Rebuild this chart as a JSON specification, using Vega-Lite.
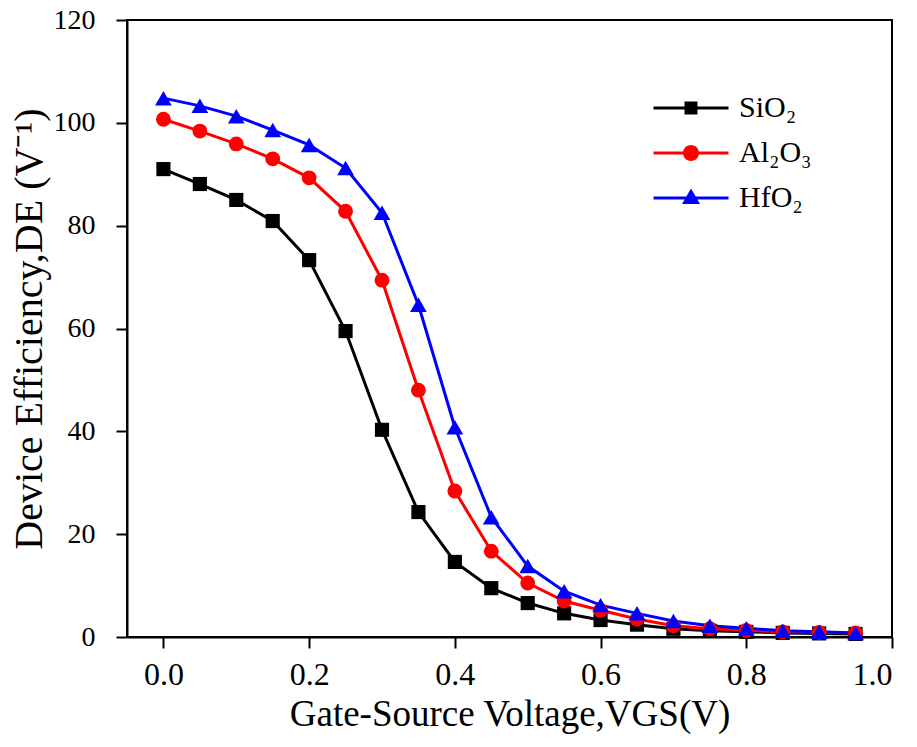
{
  "$schema": "https://vega.github.io/schema/vega-lite/v6.json",
  "autosize": "none",
  "width": 765,
  "height": 617,
  "padding": {"left": 127, "top": 20, "right": 25, "bottom": 110},
  "background": "white",
  "config": {
    "font": "Liberation Serif",
    "view": {"stroke": "black", "strokeWidth": 2},
    "axis": {
      "grid": false,
      "domainColor": "black",
      "domainWidth": 2,
      "tickColor": "black",
      "tickWidth": 2,
      "tickSize": 11,
      "labelColor": "black",
      "titleColor": "black",
      "labelFont": "Liberation Serif",
      "titleFont": "Liberation Serif",
      "titleFontWeight": "normal"
    },
    "legend": {"labelFont": "Liberation Serif"}
  },
  "data": {
    "values": [
      {"v": 0.00, "m": "SiO\u2082", "de": 91.0},
      {"v": 0.05, "m": "SiO\u2082", "de": 88.1},
      {"v": 0.10, "m": "SiO\u2082", "de": 85.0},
      {"v": 0.15, "m": "SiO\u2082", "de": 80.9},
      {"v": 0.20, "m": "SiO\u2082", "de": 73.3},
      {"v": 0.25, "m": "SiO\u2082", "de": 59.5},
      {"v": 0.30, "m": "SiO\u2082", "de": 40.3},
      {"v": 0.35, "m": "SiO\u2082", "de": 24.3},
      {"v": 0.40, "m": "SiO\u2082", "de": 14.6},
      {"v": 0.45, "m": "SiO\u2082", "de": 9.5},
      {"v": 0.50, "m": "SiO\u2082", "de": 6.6},
      {"v": 0.55, "m": "SiO\u2082", "de": 4.6},
      {"v": 0.60, "m": "SiO\u2082", "de": 3.3},
      {"v": 0.65, "m": "SiO\u2082", "de": 2.4},
      {"v": 0.70, "m": "SiO\u2082", "de": 1.6},
      {"v": 0.75, "m": "SiO\u2082", "de": 1.2},
      {"v": 0.80, "m": "SiO\u2082", "de": 1.0},
      {"v": 0.85, "m": "SiO\u2082", "de": 0.8},
      {"v": 0.90, "m": "SiO\u2082", "de": 0.7},
      {"v": 0.95, "m": "SiO\u2082", "de": 0.6},
      {"v": 0.00, "m": "Al\u2082O\u2083", "de": 100.7},
      {"v": 0.05, "m": "Al\u2082O\u2083", "de": 98.4},
      {"v": 0.10, "m": "Al\u2082O\u2083", "de": 95.9},
      {"v": 0.15, "m": "Al\u2082O\u2083", "de": 93.0},
      {"v": 0.20, "m": "Al\u2082O\u2083", "de": 89.3},
      {"v": 0.25, "m": "Al\u2082O\u2083", "de": 82.8},
      {"v": 0.30, "m": "Al\u2082O\u2083", "de": 69.4},
      {"v": 0.35, "m": "Al\u2082O\u2083", "de": 48.0},
      {"v": 0.40, "m": "Al\u2082O\u2083", "de": 28.4},
      {"v": 0.45, "m": "Al\u2082O\u2083", "de": 16.7},
      {"v": 0.50, "m": "Al\u2082O\u2083", "de": 10.5},
      {"v": 0.55, "m": "Al\u2082O\u2083", "de": 7.0},
      {"v": 0.60, "m": "Al\u2082O\u2083", "de": 5.2},
      {"v": 0.65, "m": "Al\u2082O\u2083", "de": 3.5},
      {"v": 0.70, "m": "Al\u2082O\u2083", "de": 2.2},
      {"v": 0.75, "m": "Al\u2082O\u2083", "de": 1.6},
      {"v": 0.80, "m": "Al\u2082O\u2083", "de": 1.3},
      {"v": 0.85, "m": "Al\u2082O\u2083", "de": 1.0},
      {"v": 0.90, "m": "Al\u2082O\u2083", "de": 0.9},
      {"v": 0.95, "m": "Al\u2082O\u2083", "de": 0.8},
      {"v": 0.00, "m": "HfO\u2082", "de": 104.8},
      {"v": 0.05, "m": "HfO\u2082", "de": 103.3},
      {"v": 0.10, "m": "HfO\u2082", "de": 101.3},
      {"v": 0.15, "m": "HfO\u2082", "de": 98.6},
      {"v": 0.20, "m": "HfO\u2082", "de": 95.7},
      {"v": 0.25, "m": "HfO\u2082", "de": 91.2},
      {"v": 0.30, "m": "HfO\u2082", "de": 82.5},
      {"v": 0.35, "m": "HfO\u2082", "de": 64.6},
      {"v": 0.40, "m": "HfO\u2082", "de": 40.8},
      {"v": 0.45, "m": "HfO\u2082", "de": 23.3},
      {"v": 0.50, "m": "HfO\u2082", "de": 13.8},
      {"v": 0.55, "m": "HfO\u2082", "de": 8.9},
      {"v": 0.60, "m": "HfO\u2082", "de": 6.2},
      {"v": 0.65, "m": "HfO\u2082", "de": 4.6},
      {"v": 0.70, "m": "HfO\u2082", "de": 3.1},
      {"v": 0.75, "m": "HfO\u2082", "de": 2.2},
      {"v": 0.80, "m": "HfO\u2082", "de": 1.7},
      {"v": 0.85, "m": "HfO\u2082", "de": 1.2},
      {"v": 0.90, "m": "HfO\u2082", "de": 1.0},
      {"v": 0.95, "m": "HfO\u2082", "de": 0.8}
    ]
  },
  "encoding": {
    "x": {
      "field": "v", "type": "quantitative",
      "scale": {"domain": [-0.05, 1.0], "nice": false, "zero": false},
      "axis": {
        "values": [0, 0.2, 0.4, 0.6, 0.8, 1.0], "format": ".1f",
        "labelFontSize": 32, "labelPadding": 11,
        "title": "Gate-Source Voltage,VGS(V)", "titleFontSize": 37, "titlePadding": 6
      }
    },
    "y": {
      "field": "de", "type": "quantitative",
      "scale": {"domain": [0, 120], "nice": false},
      "axis": {
        "values": [0, 20, 40, 60, 80, 100, 120],
        "labelFontSize": 28, "labelPadding": 21,
        "title": "Device Efficiency,DE (V\u207b\u00b9)", "titleFontSize": 40, "titlePadding": 4
      }
    },
    "color": {
      "field": "m", "type": "nominal",
      "scale": {"domain": ["SiO\u2082", "Al\u2082O\u2083", "HfO\u2082"], "range": ["#000000", "#ff0000", "#0000ff"]},
      "legend": {
        "title": null,
        "orient": "none",
        "legendX": 549,
        "legendY": 73,
        "padding": 0,
        "symbolSize": 400,
        "labelFontSize": 30,
        "labelColor": "black",
        "labelOffset": 33,
        "rowPadding": 15,
        "encode": {
          "symbols": {
            "update": {
              "shape": {"signal": "datum.value === 'SiO\u2082' ? 'M-3.75,-0.15L3.75,-0.15L3.75,0.15L-3.75,0.15Z M-0.65,-0.65L0.65,-0.65L0.65,0.65L-0.65,0.65Z' : (datum.value === 'HfO\u2082' ? 'M-3.75,-0.15L3.75,-0.15L3.75,0.15L-3.75,0.15Z M0,-0.95L0.9,0.6L-0.9,0.6Z' : 'M-3.75,-0.15L3.75,-0.15L3.75,0.15L-3.75,0.15Z M-0.8,0A0.8,0.8 0 1,1 0.8,0A0.8,0.8 0 1,1 -0.8,0Z')"},
              "fill": {"scale": "color", "field": "value"},
              "fillOpacity": {"value": 1},
              "opacity": {"value": 1},
              "stroke": {"value": "transparent"},
              "strokeWidth": {"value": 0}
            }
          }
        }
      }
    }
  },
  "layer": [
    {
      "mark": {"type": "line", "strokeWidth": 3}
    },
    {
      "transform": [{"filter": "datum.m === 'SiO\u2082'"}],
      "mark": {"type": "point", "filled": true, "opacity": 1, "size": 200, "shape": "square"}
    },
    {
      "transform": [{"filter": "datum.m === 'Al\u2082O\u2083'"}],
      "mark": {"type": "point", "filled": true, "opacity": 1, "size": 220, "shape": "circle"}
    },
    {
      "transform": [{"filter": "datum.m === 'HfO\u2082'"}],
      "mark": {"type": "point", "filled": true, "opacity": 1, "size": 280, "shape": "triangle-up"}
    }
  ]
}
